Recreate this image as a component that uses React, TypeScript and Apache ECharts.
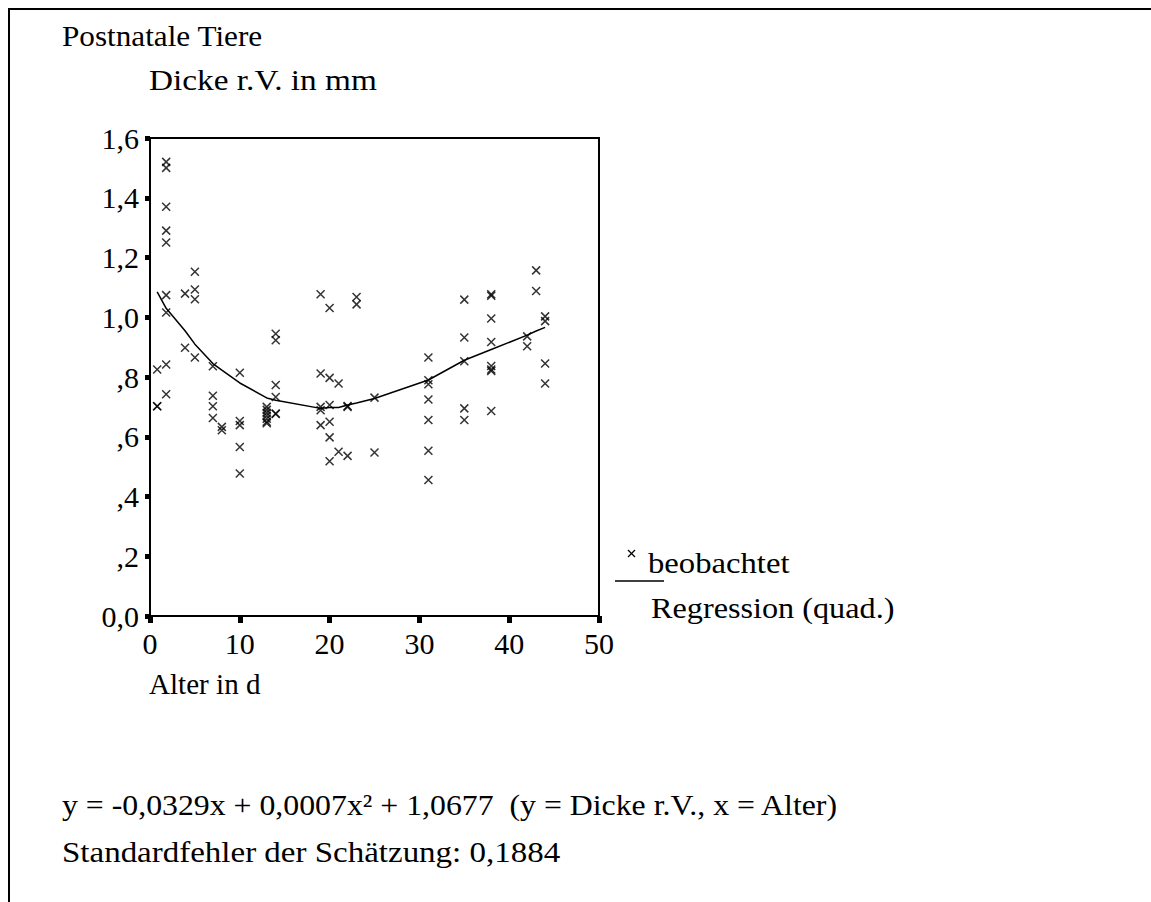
import React, { useEffect, useRef } from "react";
import * as echarts from "echarts";

const ages = [
  0.8, 0.8, 0.8,
  1.8, 1.8, 1.8, 1.8, 1.8, 1.8, 1.8, 1.8, 1.8,
  3.9, 3.9,
  5, 5, 5, 5,
  7, 7, 7, 7,
  8, 8,
  10, 10, 10, 10, 10,
  13, 13, 13, 13, 13, 13, 13,
  14, 14, 14, 14, 14, 14,
  19, 19, 19, 19, 19,
  20, 20, 20, 20, 20, 20,
  21, 21,
  22, 22, 22,
  23, 23,
  25, 25,
  31, 31, 31, 31, 31, 31, 31,
  35, 35, 35, 35, 35,
  38, 38, 38, 38, 38, 38, 38, 38,
  42, 42,
  43, 43,
  44, 44, 44, 44,
];
const thickness = [
  0.825, 0.702, 0.702,
  1.52, 1.5, 1.37, 1.29, 1.25, 1.074, 1.016, 0.842, 0.742,
  1.079, 0.898,
  1.152, 1.093, 1.06, 0.865,
  0.836, 0.737, 0.702, 0.663,
  0.633, 0.622,
  0.814, 0.653, 0.639, 0.566, 0.477,
  0.7, 0.69, 0.68, 0.67, 0.66, 0.65, 0.645,
  0.945, 0.923, 0.773, 0.733, 0.678, 0.676,
  1.077, 0.812, 0.7, 0.689, 0.639,
  1.031, 0.797, 0.706, 0.65, 0.598, 0.518,
  0.778, 0.55,
  0.703, 0.7, 0.536,
  1.068, 1.043,
  0.731, 0.547,
  0.865, 0.789, 0.776, 0.725, 0.656, 0.553, 0.455,
  1.059, 0.932, 0.853, 0.695, 0.656,
  1.077, 1.072, 0.996, 0.917, 0.837, 0.825, 0.82, 0.686,
  0.936, 0.903,
  1.157, 1.088,
  1.003, 0.987, 0.845, 0.778,
];

// Quadratic regression curve as drawn (read at the observed ages)
const fitAges = [0.8, 1.8, 3.9, 5, 7, 8, 10, 13, 14, 19, 20, 21, 22, 23, 25, 31, 35, 38, 42, 43, 44];
const fitValues = [1.085, 1.03, 0.955, 0.91, 0.845, 0.823, 0.78, 0.73, 0.722, 0.695, 0.698, 0.698, 0.706, 0.713, 0.728, 0.79, 0.856, 0.892, 0.94, 0.954, 0.966];

const xTicks = [0, 10, 20, 30, 40, 50];

const titleText = "Postnatale Tiere";
const yAxisTitle = "Dicke r.V. in mm";
const xAxisTitle = "Alter in d";
const legendObserved = "beobachtet";
const legendFit = "Regression (quad.)";
const formulaText = "y = -0,0329x + 0,0007x² + 1,0677  (y = Dicke r.V., x = Alter)";
const errorText = "Standardfehler der Schätzung: 0,1884";

const FONT = '"Liberation Serif", "Times New Roman", serif';
const FS = 30;

function fmtY(v: number): string {
  if (Math.abs(v) < 1e-9) return "0,0";
  const s = v.toFixed(1).replace(".", ",");
  return v < 1 ? s.replace(/^0/, "") : s;
}

export default function App() {
  const ref = useRef<HTMLDivElement>(null);
  useEffect(() => {
    if (!ref.current) return;
    const chart = echarts.init(ref.current, null, { renderer: "svg" });
    const txt = (text: string, x: number, y: number, sx = 1) => ({
      type: "text",
      x,
      y,
      scaleX: sx,
      style: { text, fill: "#000", fontSize: FS, fontFamily: FONT, verticalAlign: "middle", align: "left" },
    });
    chart.setOption({
      animation: false,
      backgroundColor: "#fff",
      grid: {
        left: 150,
        top: 138,
        width: 449,
        height: 478,
        show: true,
        borderColor: "#000",
        borderWidth: 2,
        containLabel: false,
      },
      xAxis: {
        type: "value",
        min: 0,
        max: 50,
        interval: 10,
        axisLine: { show: true, lineStyle: { color: "#000", width: 2 } },
        axisTick: { show: true, length: 7, lineStyle: { color: "#000", width: 5 } },
        axisLabel: {
          color: "#000",
          fontSize: FS,
          fontFamily: FONT,
          margin: 12,
          formatter: (v: number) => (xTicks.includes(v) ? String(v) : ""),
        },
        splitLine: { show: false },
      },
      yAxis: {
        type: "value",
        min: 0,
        max: 1.6,
        interval: 0.2,
        axisLine: { show: true, lineStyle: { color: "#000", width: 2 } },
        axisTick: { show: true, length: 5, lineStyle: { color: "#000", width: 5 } },
        axisLabel: { color: "#000", fontSize: FS, fontFamily: FONT, margin: 11, formatter: fmtY },
        splitLine: { show: false },
      },
      series: [
        {
          name: legendObserved,
          type: "scatter",
          data: ages.map((a, i) => [a, thickness[i]]),
          symbol: "path://M0,0L10,10M0,10L10,0",
          symbolSize: 8,
          itemStyle: { color: "none", borderColor: "#000", borderWidth: 1.5 },
          z: 3,
        },
        {
          name: legendFit,
          type: "line",
          data: fitAges.map((a, i) => [a, fitValues[i]]),
          showSymbol: false,
          symbol: "none",
          lineStyle: { color: "#000", width: 1.5 },
          z: 2,
        },
      ],
      graphic: [
        { type: "line", shape: { x1: 8, y1: 9, x2: 1151, y2: 9 }, style: { stroke: "#000", lineWidth: 2 } },
        { type: "line", shape: { x1: 9, y1: 8, x2: 9, y2: 902 }, style: { stroke: "#000", lineWidth: 2 } },
        txt(titleText, 62, 36, 1.04),
        txt(yAxisTitle, 149, 80, 1.11),
        txt(xAxisTitle, 149, 684, 0.97),
        // legend
        { type: "line", shape: { x1: 628, y1: 550, x2: 635, y2: 557 }, style: { stroke: "#000", lineWidth: 1.2 } },
        { type: "line", shape: { x1: 635, y1: 550, x2: 628, y2: 557 }, style: { stroke: "#000", lineWidth: 1.2 } },
        txt(legendObserved, 648, 563, 1.09),
        { type: "line", shape: { x1: 615, y1: 581, x2: 664, y2: 581 }, style: { stroke: "#000", lineWidth: 1.5 } },
        txt(legendFit, 651, 608, 1.075),
        txt(formulaText, 62, 805, 1.06),
        txt(errorText, 62, 852, 1.1),
      ],
    });
    return () => chart.dispose();
  }, []);
  return (
    <div
      ref={ref}
      style={{ position: "absolute", left: 0, top: 0, width: 1151, height: 902, background: "#fff" }}
    />
  );
}
